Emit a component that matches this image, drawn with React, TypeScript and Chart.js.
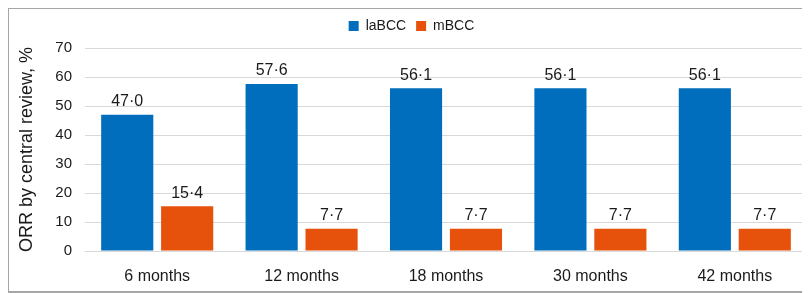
import React, { useEffect, useRef } from "react";
import { Chart, registerables } from "chart.js";

Chart.register(...registerables);

const categories = ["6 months", "12 months", "18 months", "30 months", "42 months"];
const laBCC = [47.0, 57.6, 56.1, 56.1, 56.1];
const mBCC = [15.4, 7.7, 7.7, 7.7, 7.7];
const seriesNames = ["laBCC", "mBCC"];
const yTicks = [0, 10, 20, 30, 40, 50, 60, 70];

const FONT = "'Liberation Sans', Arial, Helvetica, sans-serif";

const valueLabels = {
  id: "valueLabels",
  afterDatasetsDraw(chart: any) {
    const ctx = chart.ctx;
    ctx.save();
    ctx.font = `16px ${FONT}`;
    ctx.fillStyle = "#1a1a1a";
    ctx.textAlign = "center";
    ctx.textBaseline = "bottom";
    chart.data.datasets.forEach((ds: any, i: number) => {
      const meta = chart.getDatasetMeta(i);
      meta.data.forEach((bar: any, j: number) => {
        const v = ds.data[j] as number;
        const txt = v.toFixed(1).replace(".", "\u00B7");
        ctx.fillText(txt, bar.x, bar.y - 5);
      });
    });
    ctx.restore();
  },
};

// adds a little blank space below the legend
const legendGap = {
  id: "legendGap",
  beforeInit(chart: any) {
    const lg = chart.legend;
    if (lg && !lg._gapPatched) {
      const orig = lg.fit.bind(lg);
      lg.fit = function () {
        orig();
        this.height += 5;
      };
      lg._gapPatched = true;
    }
  },
};

export default function App() {
  const ref = useRef<HTMLCanvasElement>(null);
  useEffect(() => {
    document.body.style.overflow = "hidden";
    const chart = new Chart(ref.current!, {
      type: "bar",
      data: {
        labels: categories,
        datasets: [
          { label: seriesNames[0], data: laBCC, backgroundColor: "#006EBD", borderWidth: 0 },
          { label: seriesNames[1], data: mBCC, backgroundColor: "#E6520C", borderWidth: 0 },
        ],
      },
      options: {
        animation: false,
        responsive: false,
        maintainAspectRatio: false,
        datasets: { bar: { categoryPercentage: 0.83, barPercentage: 0.87 } },
        layout: { padding: { left: 7, right: 4, top: 0, bottom: 0 } },
        plugins: {
          tooltip: { enabled: false },
          legend: {
            position: "top",
            labels: {
              boxWidth: 10,
              boxHeight: 10,
              padding: 10,
              color: "#1a1a1a",
              font: { family: FONT, size: 14 },
            },
          },
        },
        scales: {
          x: {
            grid: { display: false, drawTicks: false },
            border: { display: true, color: "#d9d9d9", width: 1 },
            ticks: { color: "#1a1a1a", font: { family: FONT, size: 16 }, padding: 16 },
            afterFit: (s: any) => { s.height = 40; },
          },
          y: {
            min: 0,
            max: 70,
            afterBuildTicks: (s: any) => { s.ticks = yTicks.map((v) => ({ value: v })); },
            grid: { color: "#d9d9d9", drawTicks: false },
            border: { display: false },
            ticks: { color: "#1a1a1a", font: { family: FONT, size: 15 }, padding: 13 },
            title: {
              display: true,
              text: "ORR by central review, %",
              color: "#1a1a1a",
              font: { family: FONT, size: 18 },
              padding: { top: 0, bottom: 0 },
            },
            afterFit: (s: any) => { s.width = 69; },
          },
        },
      },
      plugins: [legendGap, valueLabels],
    });
    return () => chart.destroy();
  }, []);
  return (
    <div
      style={{
        width: 806,
        height: 286,
        border: "2px solid #a6a6a6",
        boxSizing: "border-box",
        marginTop: -1,
        marginLeft: -1,
        overflow: "hidden",
      }}
    >
      <canvas ref={ref} width={802} height={282} style={{ display: "block" }} />
    </div>
  );
}
